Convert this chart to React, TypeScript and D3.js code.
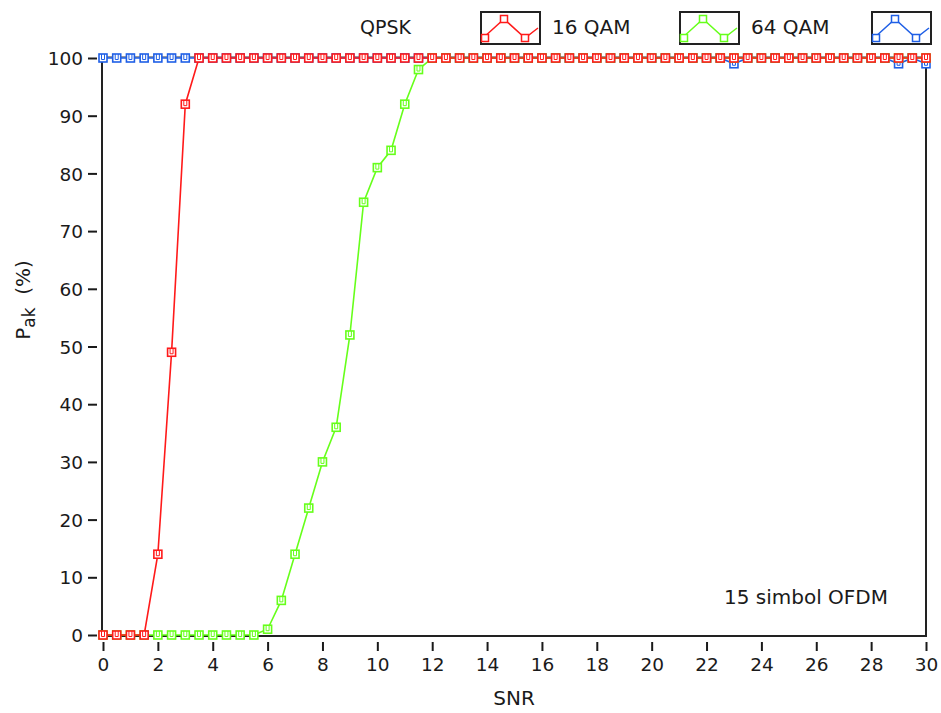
import React, { useEffect, useRef } from 'react'
import * as d3 from 'd3'

// SNR points, step 0.5 dB
const snr: number[] = d3.range(0, 30.01, 0.5)

// red curve (16 QAM), 100 after the last one
const red16: number[] = [0, 0, 0, 0, 14, 49, 92, 100]
// green curve (64 QAM)
const green64: number[] = [0, 0, 0, 0, 0, 0, 0, 0, 0, 0, 0, 0, 1, 6, 14, 22, 30, 36, 52, 75, 81, 84, 92, 98, 100]
// blue curve (QPSK) is 100 except at these SNR values
const blueDips: [number, number][] = [[23, 99], [29, 99], [30, 99]]

const xTicks = d3.range(0, 31, 2)
const yTicks = d3.range(0, 101, 10)

const legendNames = ['QPSK', '16 QAM', '64 QAM']
const colors = { red: '#ff1a1a', green: '#66ff1a', blue: '#1f5fe6' }

function fill(vals: number[]) {
  return snr.map((x, i) => ({ x, y: i < vals.length ? vals[i] : 100 }))
}

export default function App() {
  const ref = useRef<SVGSVGElement>(null)

  useEffect(() => {
    const width = 941, height = 713
    const m = { left: 102, right: 926, top: 57, bottom: 636 }
    const svg = d3.select(ref.current)
    svg.selectAll('*').remove()
    svg.attr('width', width).attr('height', height)

    const x = d3.scaleLinear().domain([0, 30]).range([m.left + 1, m.right])
    const y = d3.scaleLinear().domain([0, 100]).range([m.bottom - 1, m.top + 1])
    const font = "'DejaVu Sans', sans-serif"
    const ink = '#1a1a1a'

    svg.append('rect').attr('width', width).attr('height', height).attr('fill', '#fff')

    // frame
    svg.append('line').attr('x1', m.left).attr('x2', m.right).attr('y1', m.top).attr('y2', m.top)
      .attr('stroke', '#777').attr('stroke-width', 1.5)
    svg.append('path')
      .attr('d', `M${m.left},${m.top}V${m.bottom}H${m.right}V${m.top}`)
      .attr('fill', 'none').attr('stroke', '#222').attr('stroke-width', 2)

    // axes
    const xa = svg.append('g').attr('transform', `translate(0,${m.bottom + 6})`)
      .call(d3.axisBottom(x).tickValues(xTicks).tickSize(9).tickPadding(6))
    const ya = svg.append('g').attr('transform', `translate(${m.left - 5},0)`)
      .call(d3.axisLeft(y).tickValues(yTicks).tickSize(9).tickPadding(5))
    for (const a of [xa, ya]) {
      a.select('.domain').remove()
      a.selectAll('line').attr('stroke', ink).attr('stroke-width', 2)
      a.selectAll('text').attr('font-family', font).attr('font-size', 18.5).attr('fill', ink)
    }
    xa.selectAll('text').attr('dy', '0.78em')
    ya.selectAll('text').attr('dy', '0.36em')

    // labels
    svg.append('text').attr('x', 514).attr('y', 705)
      .attr('text-anchor', 'middle').attr('font-family', font).attr('font-size', 20).attr('fill', ink)
      .text('SNR')
    const yl = svg.append('text').attr('transform', 'translate(30,300) rotate(-90)')
      .attr('text-anchor', 'middle').attr('font-family', font).attr('font-size', 20).attr('fill', ink)
    yl.append('tspan').text('P')
    yl.append('tspan').attr('dy', 5).attr('font-size', 17).text('ak')
    yl.append('tspan').attr('dy', -5).text('\u00a0 (%)')

    svg.append('text').attr('x', 806).attr('y', 604)
      .attr('text-anchor', 'middle').attr('font-family', font).attr('font-size', 20).attr('fill', ink)
      .text('15 simbol OFDM')

    const blue = snr.map(v => {
      const d = blueDips.find(b => b[0] === v)
      return { x: v, y: d ? d[1] : 100 }
    })
    const series = [
      { data: blue, color: colors.blue },
      { data: fill(green64), color: colors.green },
      { data: fill(red16), color: colors.red },
    ]

    const line = d3.line<{ x: number, y: number }>().x(d => x(d.x)).y(d => y(d.y))
    const g = svg.append('g')
    series.forEach(s => {
      g.append('path').datum(s.data).attr('d', line)
        .attr('fill', 'none').attr('stroke', s.color).attr('stroke-width', 1.6)
      const mk = g.selectAll(null).data(s.data).enter().append('g')
        .attr('transform', d => `translate(${x(d.x)},${y(d.y)})`)
      mk.append('rect').attr('x', -4).attr('y', -4).attr('width', 8).attr('height', 8)
        .attr('fill', '#fff').attr('stroke', s.color).attr('stroke-width', 1.6)
      mk.append('path').attr('d', 'M-1.5,-4V1.5H1.5V-4')
        .attr('fill', 'none').attr('stroke', s.color).attr('stroke-width', 1)
    })

    // legend
    svg.append('text').attr('x', 360).attr('y', 34).attr('font-family', font)
      .attr('font-size', 19).attr('fill', ink).text(legendNames[0])
    const boxes = [
      { x: 481, color: colors.red, label: legendNames[1] },
      { x: 680, color: colors.green, label: legendNames[2] },
      { x: 872, color: colors.blue, label: '' },
    ]
    const hat: [number, number][] = [[2, 26], [23, 7], [44, 26], [57, 16]]
    boxes.forEach(b => {
      const lg = svg.append('g').attr('transform', `translate(${b.x},12)`)
      lg.append('rect').attr('width', 59).attr('height', 32)
        .attr('fill', '#fff').attr('stroke', '#222').attr('stroke-width', 2)
      lg.append('path').attr('d', d3.line()(hat))
        .attr('fill', 'none').attr('stroke', b.color).attr('stroke-width', 1.5)
      hat.slice(0, 3).forEach(p => {
        const px = Math.max(p[0], 4)
        lg.append('rect').attr('x', px - 3.5).attr('y', p[1] - 3.5).attr('width', 7).attr('height', 7)
          .attr('fill', '#fff').attr('stroke', b.color).attr('stroke-width', 1.5)
      })
      if (b.label) {
        svg.append('text').attr('x', b.x + 71).attr('y', 34).attr('font-family', font)
          .attr('font-size', 20).attr('fill', ink).text(b.label)
      }
    })
  }, [])

  return <svg ref={ref} style={{ display: 'block', position: 'absolute', left: 0, top: 0 }}></svg>
}
